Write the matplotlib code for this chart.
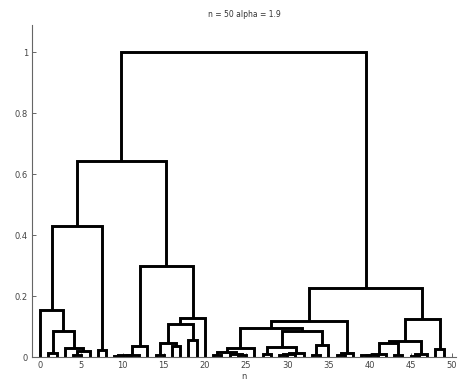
import numpy as np
import matplotlib
matplotlib.use("Agg")
import matplotlib.pyplot as plt

# 50 leaves sit at x = 0..49, merges use scipy-style ids (leaves 0..49, new clusters 50..)
N_LEAVES = 50
MERGE_LEFT = [1, 4, 51, 3, 50, 0, 7, 55, 9, 58, 59, 60, 14, 16, 62, 18, 64, 66, 61, 57,
              21, 24, 23, 70, 73, 27, 29, 76, 77, 75, 33, 80, 79, 74, 36, 84, 83,
              39, 87, 88, 43, 89, 45, 92, 91, 48, 94, 86, 69]
MERGE_RIGHT = [2, 5, 6, 52, 53, 54, 8, 56, 10, 11, 12, 13, 15, 17, 63, 19, 65, 20, 67, 68,
               22, 25, 71, 72, 26, 28, 30, 31, 32, 78, 34, 35, 81, 82, 37, 38, 85,
               40, 41, 42, 44, 90, 46, 47, 93, 49, 95, 96, 97]
MERGE_HEIGHT = [0.013, 0.008, 0.02, 0.03, 0.086, 0.155, 0.022, 0.43, 0.004, 0.006, 0.008, 0.036,
                0.005, 0.035, 0.045, 0.055, 0.11, 0.128, 0.30, 0.645,
                0.008, 0.005, 0.01, 0.016, 0.03, 0.01, 0.005, 0.01, 0.013, 0.033, 0.008, 0.04,
                0.086, 0.095, 0.006, 0.013, 0.118,
                0.005, 0.008, 0.01, 0.006, 0.046, 0.004, 0.01, 0.053, 0.026, 0.125, 0.227, 1.0]

X_TICKS = [0, 5, 10, 15, 20, 25, 30, 35, 40, 45, 50]
Y_TICKS = [0, 0.2, 0.4, 0.6, 0.8, 1]
Y_TICK_LABELS = ["0", "0.2", "0.4", "0.6", "0.8", "1"]
TITLE = "n = 50 alpha = 1.9"


def dendrogram_lines(left, right, height, n):
    """Node x is the mean of its two children, like matlab's dendrogram."""
    xs = list(np.arange(n, dtype=float))
    hs = [0.0] * n
    segs = []
    for a, b, h in zip(left, right, height):
        xa, xb = xs[a], xs[b]
        segs.append(([xa, xa, xb, xb], [hs[a], h, h, hs[b]]))
        xs.append((xa + xb) / 2.0)
        hs.append(h)
    return segs


fig = plt.figure(figsize=(4.6, 3.8), dpi=100)
ax = fig.add_axes([0.0696, 0.0605, 0.9217, 0.8737])

for sx, sy in dendrogram_lines(MERGE_LEFT, MERGE_RIGHT, MERGE_HEIGHT, N_LEAVES):
    ax.plot(sx, sy, color="black", lw=2.1, solid_joinstyle="miter", solid_capstyle="butt")

ax.set_xlim(-1, 50.5)
ax.set_ylim(0, 1.09)
ax.set_xticks(X_TICKS)
ax.set_yticks(Y_TICKS)
ax.set_yticklabels(Y_TICK_LABELS)

for side in ["top", "right"]:
    ax.spines[side].set_visible(False)
for side in ["left", "bottom"]:
    ax.spines[side].set_color("#666666")
    ax.spines[side].set_linewidth(0.8)

ax.tick_params(direction="in", length=3, width=0.7, color="#666666",
               labelsize=6, labelcolor="#444444", pad=3)
ax.set_xlabel("n", fontsize=6, color="#444444", labelpad=1)
ax.set_title(TITLE, fontsize=5.5, color="#333333", pad=6)

fig.savefig("out.png", dpi=100)
